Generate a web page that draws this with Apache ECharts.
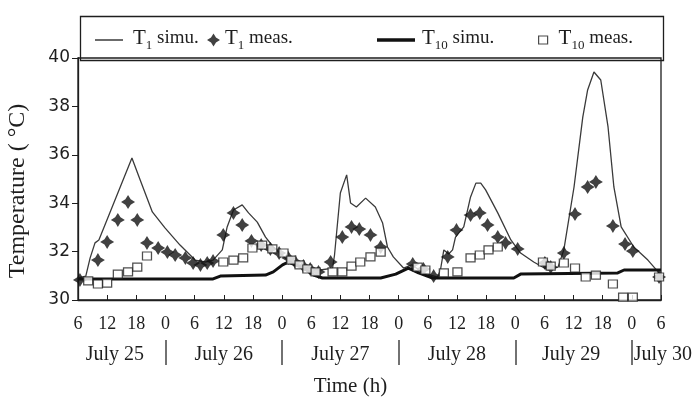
<!DOCTYPE html>
<html>
<head>
<meta charset="utf-8">
<script src="https://cdn.jsdelivr.net/npm/echarts@6/dist/echarts.min.js"></script>
<style>html,body{margin:0;padding:0;background:#fff}#c{width:697px;height:397px}</style>
</head>
<body>
<div id="c"></div>
<script>
// ---- data (hours counted from July 25, 0 h) ----
const t1SimuH = [6.0,7.6,8.5,9.5,10.3,17.1,18.8,21.3,23.9,27.0,30.1,32.2,33.8,35.7,36.7,38.0,39.8,41.1,42.9,44.6,46.2,49.1,52.4,55.9,58.4,58.8,60.0,61.3,62.1,63.3,65.2,67.2,68.7,69.7,70.9,73.0,74.7,77.1,80.0,80.6,81.3,82.3,83.1,83.7,85.4,86.8,87.9,88.9,89.9,92.4,95.1,97.1,99.8,102.7,104.8,106.0,108.1,109.9,110.9,112.2,113.6,115.1,116.3,117.8,120.4,123.3,126.0];
const t1SimuT = [30.91,30.99,31.74,32.36,32.48,35.87,34.96,33.64,32.98,32.27,31.65,31.57,31.65,32.07,33.02,33.72,33.93,33.6,33.22,32.6,32.19,31.65,31.36,31.24,31.32,31.86,34.42,35.17,34.01,33.84,34.21,33.84,33.18,32.19,31.78,31.32,31.45,31.12,30.95,31.24,32.07,31.9,32.07,32.6,33.02,34.26,34.83,34.83,34.55,33.6,32.48,31.94,31.57,31.24,31.36,32.07,34.67,37.56,38.68,39.42,39.09,37.15,34.67,33.02,32.19,31.65,31.03];

const t10SimuH = [6,33.8,35.3,44.6,46.2,48.1,49.3,50.7,52.4,54.5,56.3,68.3,71.4,74.0,76.1,79.0,95.7,97.1,117.1,118.4,126];
const t10SimuT = [30.87,30.87,30.99,31.03,31.16,31.45,31.57,31.45,31.32,31.03,30.91,30.91,31.07,31.32,31.12,30.91,30.91,31.07,31.12,31.24,31.24];

const t1MeasH = [6.4,10.1,12.0,14.2,16.3,18.2,20.2,22.5,24.4,26.0,28.1,29.7,31.2,32.6,33.8,35.9,38.0,39.8,41.7,43.7,45.6,47.4,49.3,50.7,52.4,53.8,55.5,58.0,60.4,62.3,63.9,66.2,68.3,74.9,77.1,79.2,82.1,83.9,86.8,88.7,90.3,92.4,94.0,96.5,102.1,103.3,106.0,108.3,110.9,112.6,116.1,118.6,120.2,125.6];
const t1MeasT = [30.83,31.65,32.4,33.31,34.05,33.31,32.36,32.15,31.98,31.86,31.74,31.53,31.45,31.53,31.61,32.69,33.6,33.1,32.44,32.27,32.11,31.94,31.74,31.57,31.4,31.28,31.16,31.57,32.6,33.02,32.93,32.69,32.19,31.49,31.28,30.99,31.78,32.89,33.51,33.6,33.1,32.6,32.36,32.11,31.53,31.36,31.94,33.55,34.67,34.88,33.06,32.31,32.02,30.95];

const t10MeasH = [8.1,10.1,12.0,14.2,16.3,18.2,20.2,35.9,38.0,40.0,41.9,43.9,46.0,48.3,49.9,51.6,53.2,54.9,58.4,60.4,62.3,64.1,66.2,68.3,75.9,77.5,81.3,84.1,86.8,88.7,90.5,92.4,101.7,103.3,106.0,108.3,110.5,112.6,116.1,118.2,120.2,125.6];
const t10MeasT = [30.79,30.66,30.7,31.07,31.16,31.36,31.82,31.57,31.65,31.74,32.15,32.27,32.11,31.94,31.65,31.45,31.28,31.16,31.16,31.16,31.4,31.57,31.78,31.98,31.36,31.24,31.12,31.16,31.74,31.86,32.07,32.19,31.57,31.4,31.53,31.32,30.95,31.03,30.66,30.12,30.12,30.95];

const dayLabels = ['July 25','July 26','July 27','July 28','July 29','July 30'];
const dayLabelAt = [13.6, 36, 60, 84, 107.5, 120];
const daySeparators = [24, 48, 72, 96, 120];
const seriesNames = ['T1 simu.','T1 meas.','T10 simu.','T10 meas.'];

function zip(a, b) { return a.map((v, i) => [v, b[i]]); }

const SERIF = 'Liberation Serif';
const ink = '#1e1e1e';
const star = 'path://M10,0 L13.8,6.2 L20,10 L13.8,13.8 L10,20 L6.2,13.8 L0,10 L6.2,6.2 Z';

const rich = {
  t: { fontFamily: SERIF, fontSize: 21, color: ink, verticalAlign: 'bottom', padding: [0, 0, 3, 0] },
  s: { fontFamily: SERIF, fontSize: 13, color: ink, verticalAlign: 'bottom', padding: [0, 0, 0, 0] },
  n: { fontFamily: SERIF, fontSize: 19, color: ink, verticalAlign: 'bottom', padding: [0, 0, 4, 0] }
};
function legendText(name) {
  const m = name.match(/^T(\d+)(.*)$/);
  return '{t|T}{s|' + m[1] + '}{n|' + m[2] + '}';
}

const chart = echarts.init(document.getElementById('c'), null, { renderer: 'canvas' });
chart.setOption({
  animation: false,
  backgroundColor: '#fff',
  grid: { left: 78, right: 36, top: 58, bottom: 97, outerBoundsMode: 'none', containLabel: false, show: true, borderColor: ink, borderWidth: 1.3, backgroundColor: 'transparent' },
  graphic: [{
    type: 'rect', left: 78, top: 14, z: 10,
    shape: { width: 583, height: 44 },
    style: { fill: 'none', stroke: ink, lineWidth: 1.3 }
  }],
  legend: [
    { data: [{ name: seriesNames[0], icon: 'rect' }], left: 90, top: 23, itemWidth: 28, itemHeight: 1.5, formatter: legendText, textStyle: { rich: rich, padding: [0, 0, 0, 5] }, selectedMode: false },
    { data: [{ name: seriesNames[1], icon: star }], left: 202, top: 23, itemWidth: 13, itemHeight: 13, formatter: legendText, textStyle: { rich: rich }, selectedMode: false },
    { data: [{ name: seriesNames[2], icon: 'rect' }], left: 372, top: 23, itemWidth: 38, itemHeight: 3.5, formatter: legendText, textStyle: { rich: rich, padding: [0, 0, 0, 2] }, selectedMode: false },
    { data: [{ name: seriesNames[3], icon: 'rect', itemStyle: { color: '#fff', borderColor: ink, borderWidth: 1.2 } }], left: 533, top: 23, itemWidth: 9, itemHeight: 8, formatter: legendText, textStyle: { rich: rich, padding: [0, 0, 0, 6] }, selectedMode: false }
  ],
  xAxis: [{
    type: 'value', min: 6, max: 126, interval: 6,
    axisLine: { show: true, lineStyle: { color: ink, width: 1.3 } },
    axisTick: { show: true, inside: true, length: 5, lineStyle: { color: ink } },
    axisLabel: { formatter: v => String(v % 24), fontFamily: SERIF, fontSize: 18, color: ink, margin: 15, showMinLabel: true, showMaxLabel: true },
    splitLine: { show: false }
  }, {
    type: 'value', min: 6, max: 126, position: 'bottom', offset: 40,
    axisLine: { show: false },
    axisTick: { show: true, customValues: daySeparators, inside: false, length: 25, lineStyle: { color: '#444', width: 1.5 } },
    axisLabel: {
      customValues: dayLabelAt,
      formatter: v => { const i = dayLabelAt.indexOf(v); return i === dayLabels.length - 1 ? '{r|' + dayLabels[i] + '}' : dayLabels[i]; },
      fontFamily: SERIF, fontSize: 20, color: ink, margin: 5,
      rich: { r: { fontFamily: SERIF, fontSize: 20, color: ink, padding: [0, 0, 0, 62] } }
    },
    splitLine: { show: false },
    name: 'Time (h)', nameLocation: 'middle', nameGap: 36,
    nameTextStyle: { fontFamily: SERIF, fontSize: 21, color: ink, padding: [0, 38, 0, 0] }
  }],
  yAxis: {
    type: 'value', min: 30, max: 40, interval: 2,
    axisLine: { show: true, lineStyle: { color: ink, width: 1.3 } },
    axisTick: { show: true, inside: false, length: 6, lineStyle: { color: ink } },
    axisLabel: { fontFamily: 'DejaVu Sans', fontSize: 17, color: ink, margin: 8 },
    splitLine: { show: false },
    name: 'Temperature ( °C)', nameLocation: 'middle', nameGap: 48,
    nameTextStyle: { fontFamily: SERIF, fontSize: 24, color: ink, padding: [0, 24, 0, 0] }
  },
  series: [
    { name: seriesNames[0], type: 'line', data: zip(t1SimuH, t1SimuT), showSymbol: false, symbol: 'none', color: '#3a3a3a', lineStyle: { color: '#3a3a3a', width: 1.3 }, z: 2 },
    { name: seriesNames[1], type: 'scatter', data: zip(t1MeasH, t1MeasT), symbol: star, symbolSize: 14, color: '#111', itemStyle: { color: '#111' }, z: 4 },
    { name: seriesNames[2], type: 'line', data: zip(t10SimuH, t10SimuT), showSymbol: false, symbol: 'none', color: '#111', lineStyle: { color: '#111', width: 3 }, z: 3 },
    { name: seriesNames[3], type: 'scatter', data: zip(t10MeasH, t10MeasT), symbol: 'rect', symbolSize: [9, 8], color: '#fff', itemStyle: { color: '#fff', borderColor: '#222', borderWidth: 1.2 }, z: 5 }
  ]
});
</script>
</body>
</html>
